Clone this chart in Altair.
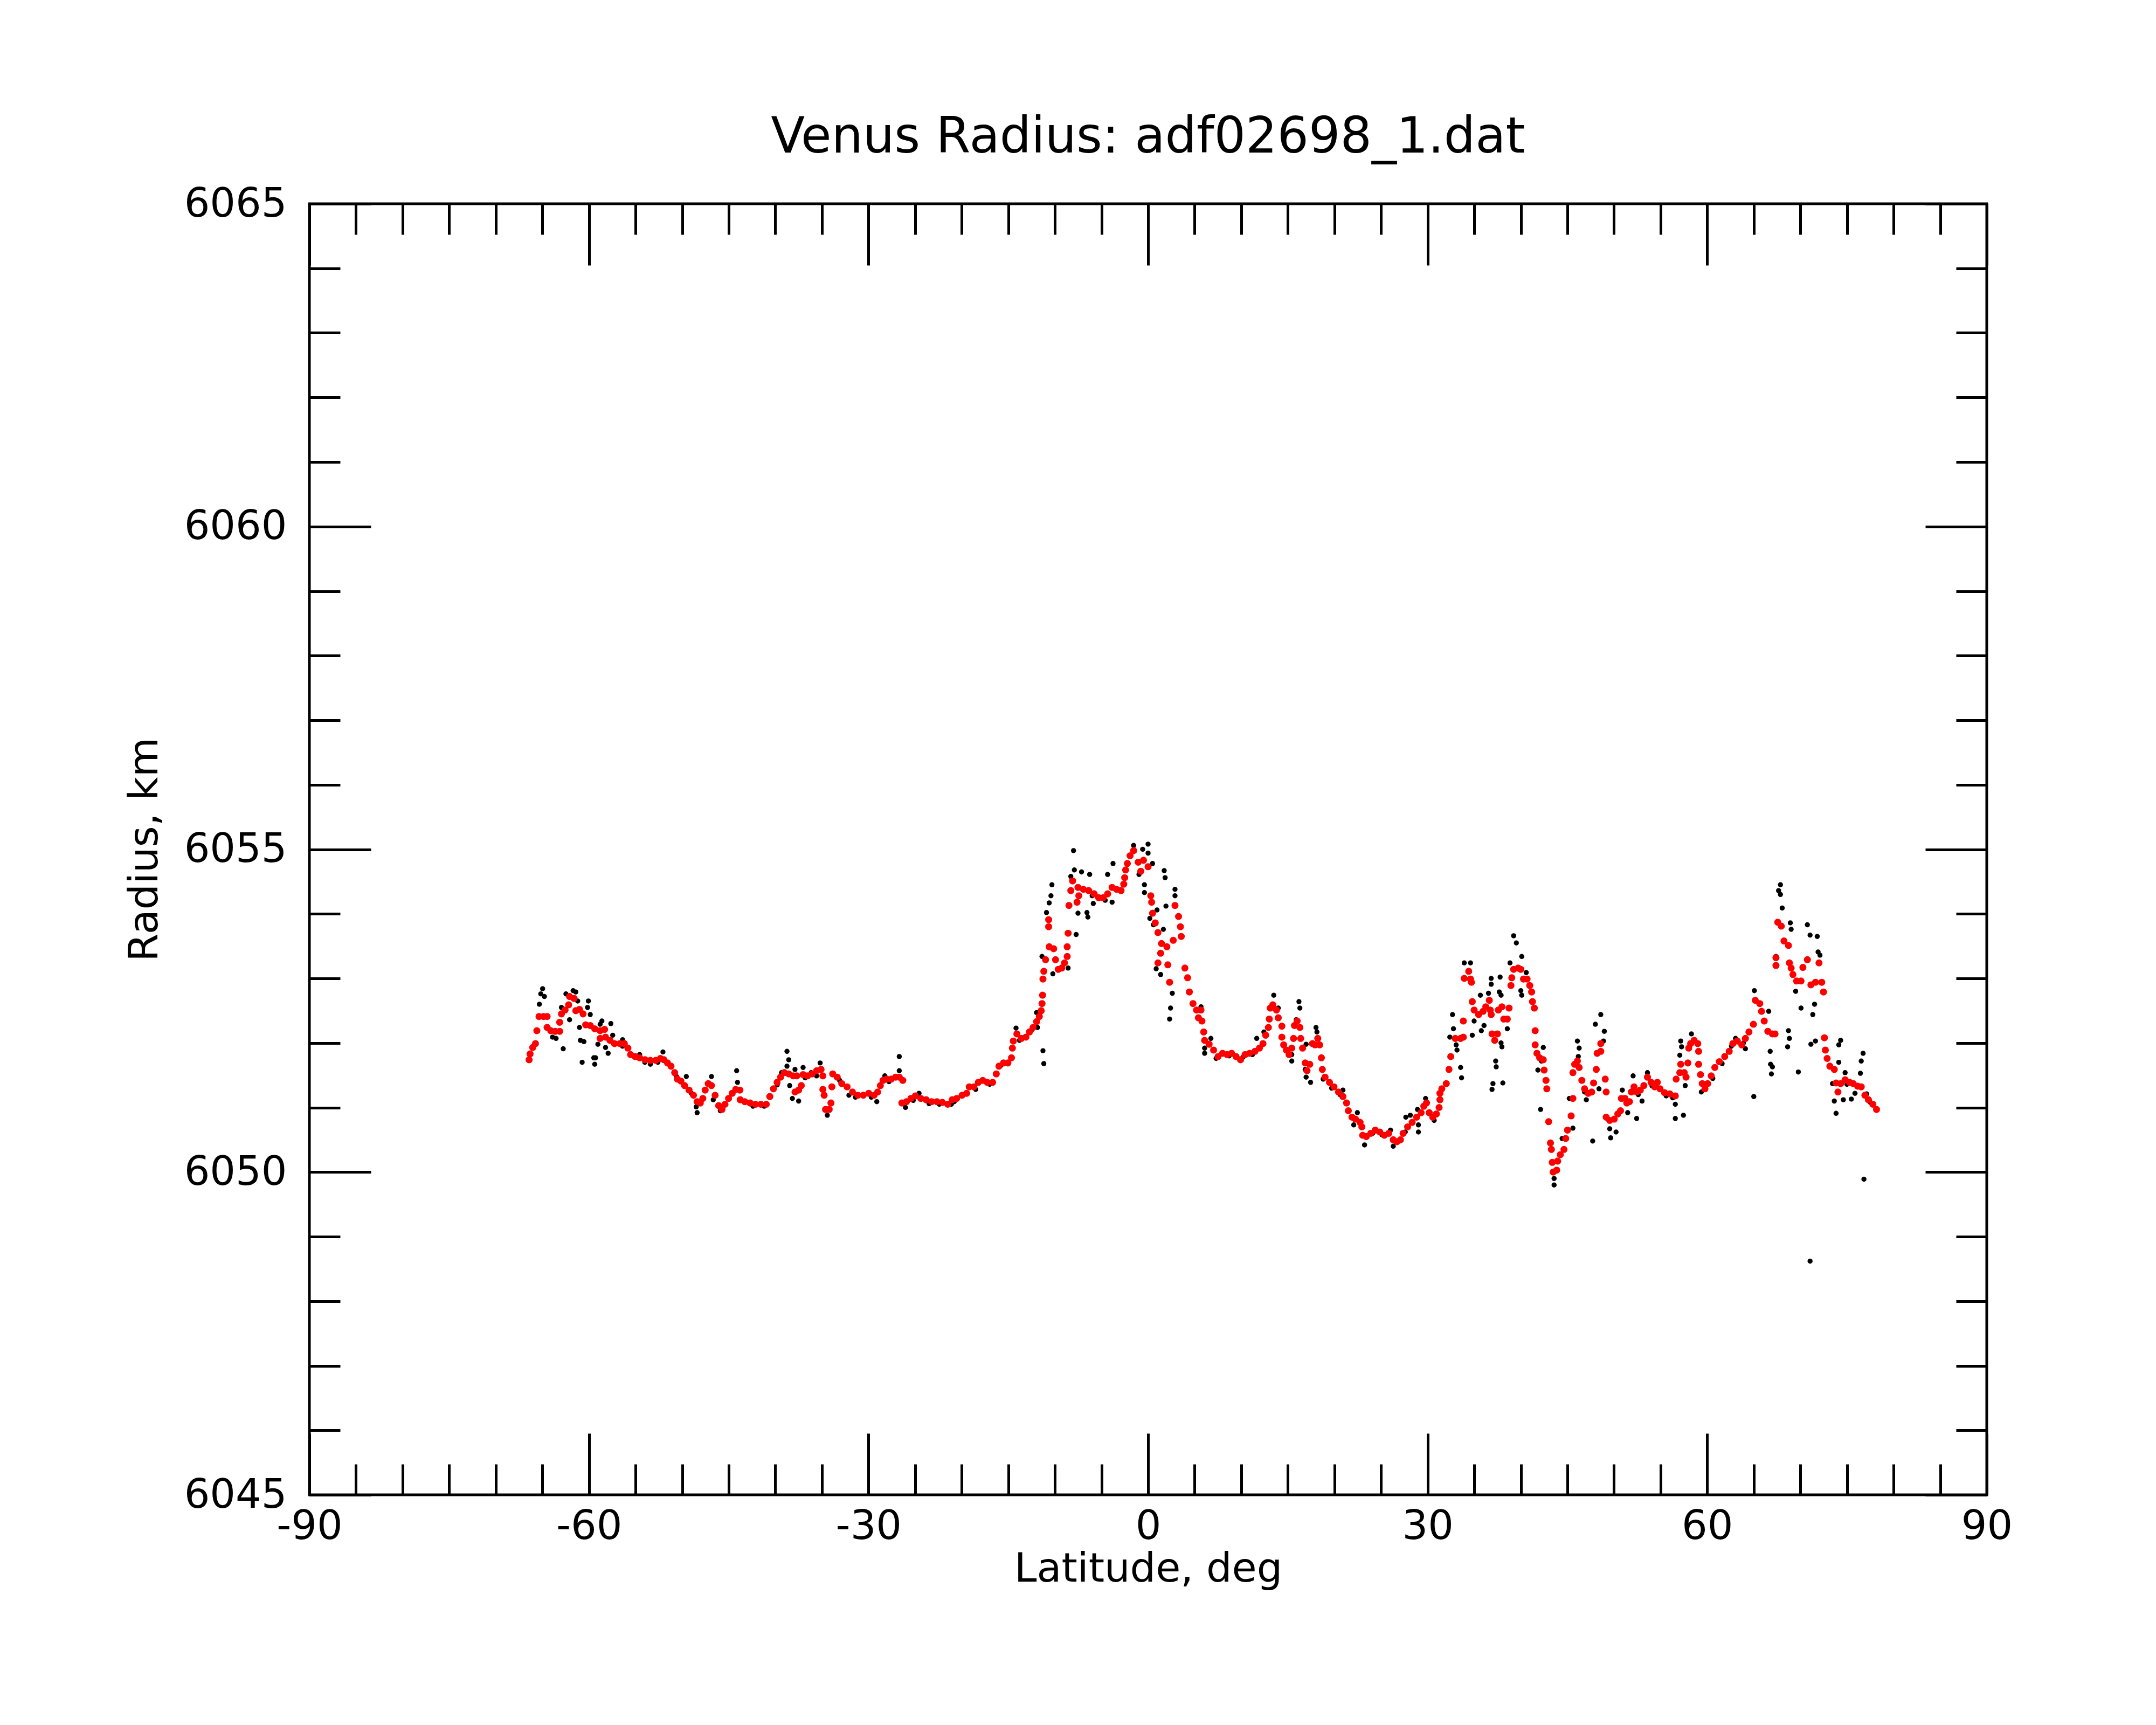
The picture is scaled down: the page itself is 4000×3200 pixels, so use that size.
import altair as alt
import pandas as pd

# ---------------- data ----------------
red_lat = [
    -66.42, -66.32, -66.03, -65.74, -65.59, -65.36, -64.88, -64.49, -64.49, -64.10,
    -63.62, -63.14, -63.14, -62.95, -62.56, -62.18, -62.08, -61.60, -61.41, -61.02,
    -60.63, -60.35, -59.86, -59.38, -58.80, -58.32, -58.80, -58.22, -57.74, -57.26,
    -56.68, -56.20, -55.82, -55.53, -55.04, -54.56, -53.98, -53.41, -52.83, -52.34,
    -51.96, -51.57, -51.19, -50.80, -50.51, -50.13, -49.74, -49.26, -48.78, -48.39,
    -48.05, -47.78, -47.53, -47.20, -46.85, -46.46, -46.08, -45.73, -45.40, -45.02,
    -44.63, -44.25, -43.80, -43.77,
    -43.28, -42.71, -42.13, -41.55, -40.97, -40.59, -40.20, -39.81, -39.43, -39.04,
    -38.56, -38.08, -37.69, -37.89, -37.50, -37.21, -37.02, -36.54, -36.05, -35.57,
    -35.09, -34.90, -34.90, -34.76, -34.61, -34.22, -34.03, -33.93, -33.84, -33.36,
    -32.87, -32.30, -31.72, -31.14, -30.56, -29.98, -29.40, -29.02, -28.73, -28.44,
    -28.05, -27.57, -27.09, -26.70, -26.32, -26.42, -25.93, -25.45, -24.97, -24.39,
    -23.81, -23.23, -22.66, -22.08, -21.50, -21.02, -20.54, -19.96, -19.47, -19.19,
    -18.70, -18.22, -17.74, -17.26, -16.68, -16.29, -16.00, -15.52, -15.04, -14.66,
    -14.56, -14.46, -14.08, -13.60, -13.11, -12.73, -12.34, -11.96, -11.67, -11.47,
    -11.38, -11.32, -11.28, -11.19, -11.00, -10.61, -10.13, -9.93, -9.64, -9.26,
    -8.97, -8.68, -8.68, -8.58, -10.67, -10.67, -8.49, -8.29, -8.10, -7.62,
    -7.43, -7.52, -6.94, -6.37, -5.79, -5.30, -4.82, -4.34, -3.86, -3.38,
    -2.90, -2.61, -2.51, -2.41, -2.22, -1.93, -1.55, -1.06, -0.49, 0.00,
    -0.78, 0.29, 0.38, 0.48, 0.77, 1.06, 1.44, 2.02, 1.35, 1.06,
    2.12, 2.31, 2.70, 2.89, 3.27, 3.47, 3.56, 3.95, 4.24, 4.43,
    4.82, 5.20, 5.40,
    5.68, 5.78, 5.97, 6.07, 6.55, 7.03, 7.51, 7.99, 8.48, 8.96,
    9.44, 9.92, 10.41, 10.89, 11.47, 11.95, 12.33, 12.62, 12.91, 13.01,
    13.11, 13.39, 13.78, 13.97, 14.36, 14.36, 14.55, 14.84, 15.13, 15.42,
    15.61, 15.71, 16.00, 16.29, 16.38, 16.58, 16.86, 17.06, 17.35, 17.64,
    17.92, 18.21, 18.41, 18.60, 18.70, 18.99, 19.47, 19.95, 20.43, 20.91,
    21.30, 21.49, 21.88, 22.26, 22.75, 22.94, 23.03, 23.42, 23.90, 24.38,
    24.87, 25.35, 25.83, 26.31, 26.70, 27.08, 27.37, 27.85, 28.34, 28.82,
    29.30, 29.59, 29.88,
    30.17, 30.55, 30.94, 31.23, 31.32, 31.32, 31.52, 32.00, 32.29, 32.48,
    32.96, 33.54, 33.83, 33.83, 33.93, 34.41, 34.60, 34.70, 34.79, 34.99,
    35.47, 35.95, 36.24, 36.62, 36.72, 36.82, 36.91, 37.20, 37.49, 37.59,
    37.97, 38.17, 38.55, 38.74, 38.94, 39.03, 39.23, 39.71, 40.00, 40.29,
    40.67, 40.96, 41.16, 41.25, 41.45, 41.54, 41.54, 41.73, 42.02, 42.41,
    42.50, 42.70, 42.79, 42.99, 43.18, 43.28, 43.37, 43.47, 43.85, 43.95,
    44.24, 44.63, 44.82, 45.01, 45.40, 45.59, 45.59, 45.78, 46.07, 46.26,
    46.55, 46.84, 47.23, 47.61, 47.81, 48.10, 48.19, 48.58, 48.58, 49.06,
    49.16, 49.16, 49.54, 50.02, 50.41, 50.70, 50.79, 51.18, 51.37, 51.66,
    51.86, 52.15, 52.43, 52.82, 53.20, 53.59, 53.98, 54.36,
    54.65, 54.94, 55.42, 56.00, 56.58, 56.67, 57.06, 57.16, 57.54, 57.73,
    57.93, 58.02, 58.22, 58.60, 58.99, 59.08, 59.08, 59.28, 59.47, 59.76,
    60.05, 60.43, 60.82, 61.30, 61.88, 62.36, 62.75, 63.23, 63.71, 64.10,
    64.48, 64.96, 65.16, 65.64, 65.83, 66.12, 66.51, 67.00, 67.28, 67.38,
    67.38, 67.57, 67.95, 68.24, 68.72, 68.82, 69.01, 69.20, 69.59, 70.07,
    70.27, 70.75, 71.13, 71.62, 72.00, 72.29, 72.48, 72.58, 72.68, 72.87,
    73.16, 73.64, 73.83, 74.03, 74.32, 74.80, 75.28, 75.67, 76.15, 76.53,
    76.92, 77.30, 77.78, 78.17,
]
red_r = [
    6051.74, 6051.83, 6051.93, 6051.99, 6052.19, 6052.41, 6052.41, 6052.41, 6052.24, 6052.19,
    6052.18, 6052.18, 6052.32, 6052.45, 6052.51, 6052.59, 6052.72, 6052.69, 6052.50, 6052.52,
    6052.45, 6052.28, 6052.27, 6052.22, 6052.19, 6052.21, 6052.07, 6052.09, 6052.04, 6051.99,
    6051.99, 6051.99, 6051.92, 6051.82, 6051.79, 6051.77, 6051.74, 6051.73, 6051.73, 6051.76,
    6051.74, 6051.69, 6051.64, 6051.54, 6051.44, 6051.41, 6051.34, 6051.27, 6051.19, 6051.09,
    6051.07, 6051.14, 6051.27, 6051.37, 6051.34, 6051.19, 6051.03, 6050.97, 6051.05, 6051.14,
    6051.22, 6051.28, 6051.27, 6051.12,
    6051.09, 6051.07, 6051.05, 6051.05, 6051.05, 6051.17, 6051.29, 6051.39, 6051.47, 6051.54,
    6051.52, 6051.49, 6051.49, 6051.24, 6051.27, 6051.34, 6051.51, 6051.49, 6051.52, 6051.57,
    6051.59, 6051.49, 6051.28, 6051.19, 6050.97, 6050.97, 6051.07, 6051.32, 6051.52, 6051.47,
    6051.37, 6051.32, 6051.24, 6051.19, 6051.19, 6051.22, 6051.19, 6051.24, 6051.34, 6051.42,
    6051.44, 6051.44, 6051.47, 6051.47, 6051.42, 6051.07, 6051.09, 6051.14, 6051.18, 6051.14,
    6051.12, 6051.09, 6051.09, 6051.08, 6051.05, 6051.12, 6051.14, 6051.19, 6051.22, 6051.32,
    6051.32, 6051.39, 6051.42, 6051.39, 6051.39, 6051.52, 6051.64, 6051.69, 6051.69, 6051.77,
    6051.92, 6052.03, 6052.14, 6052.07, 6052.09, 6052.17, 6052.24, 6052.33, 6052.41, 6052.50,
    6052.61, 6052.74, 6052.99, 6053.11, 6053.29, 6053.49, 6053.46, 6053.29, 6053.14, 6053.16,
    6053.24, 6053.34, 6053.49, 6053.70, 6053.80, 6053.91, 6054.13, 6054.36, 6054.51, 6054.18,
    6054.28, 6054.41, 6054.38, 6054.36, 6054.31, 6054.25, 6054.25, 6054.31, 6054.41, 6054.38,
    6054.36, 6054.46, 6054.56, 6054.68, 6054.78, 6054.90, 6054.98, 6054.80, 6054.83, 6054.73,
    6054.66, 6054.28, 6054.18, 6054.01, 6053.86, 6053.71, 6053.54, 6053.49, 6053.39, 6053.24,
    6053.21, 6052.94, 6053.59, 6054.13, 6053.96, 6053.80, 6053.65, 6053.16, 6053.01, 6052.79,
    6052.61, 6052.51, 6052.39,
    6052.51, 6052.34, 6052.17, 6052.04, 6051.98, 6051.89, 6051.79, 6051.84, 6051.82, 6051.84,
    6051.79, 6051.74, 6051.82, 6051.84, 6051.87, 6051.92, 6051.99, 6052.12, 6052.24, 6052.37,
    6052.54, 6052.59, 6052.51, 6052.39, 6052.26, 6052.09, 6051.97, 6051.89, 6051.82, 6051.92,
    6052.07, 6052.27, 6052.34, 6052.24, 6052.07, 6051.92, 6051.69, 6051.57, 6051.67, 6051.99,
    6051.97, 6052.07, 6051.97, 6051.77, 6051.59, 6051.47, 6051.39, 6051.32, 6051.24, 6051.17,
    6051.07, 6050.95, 6050.85, 6050.82, 6050.77, 6050.70, 6050.57, 6050.55, 6050.60, 6050.65,
    6050.62, 6050.57, 6050.60, 6050.50, 6050.47, 6050.50, 6050.60, 6050.70, 6050.77, 6050.85,
    6050.92, 6051.02, 6051.07,
    6050.92, 6050.85, 6050.90, 6051.00, 6051.12, 6051.22, 6051.29, 6051.37, 6051.59, 6051.79,
    6052.07, 6052.07, 6052.09, 6052.34, 6053.00, 6053.11, 6052.99, 6052.94, 6052.64, 6052.51,
    6052.44, 6052.49, 6052.56, 6052.66, 6052.51, 6052.44, 6052.14, 6052.04, 6052.14, 6052.51,
    6052.56, 6052.37, 6052.37, 6052.54, 6052.89, 6053.01, 6053.14, 6053.16, 6053.14, 6052.99,
    6052.99, 6052.89, 6052.79, 6052.64, 6052.54, 6052.19, 6051.97, 6051.84, 6051.77, 6051.74,
    6051.58, 6051.42, 6051.29, 6050.78, 6050.45, 6050.35, 6050.15, 6050.00, 6050.03, 6050.17,
    6050.27, 6050.35, 6050.52, 6050.65, 6050.87, 6051.14, 6051.54, 6051.67, 6051.72, 6051.62,
    6051.42, 6051.29, 6051.22, 6051.24, 6051.38, 6051.59, 6051.84, 6051.87, 6051.99, 6051.44,
    6051.24, 6050.85, 6050.80, 6050.82, 6050.90, 6050.95, 6051.14, 6051.14, 6051.07, 6051.09,
    6051.24, 6051.32, 6051.24, 6051.27, 6051.34, 6051.47, 6051.39, 6051.32,
    6051.39, 6051.29, 6051.23, 6051.21, 6051.18, 6051.44, 6051.54, 6051.67, 6051.54, 6051.47,
    6051.69, 6051.92, 6051.99, 6052.04, 6051.99, 6051.87, 6051.67, 6051.51, 6051.37, 6051.29,
    6051.37, 6051.49, 6051.62, 6051.71, 6051.79, 6051.87, 6051.99, 6052.03, 6051.97, 6052.07,
    6052.17, 6052.29, 6052.66, 6052.61, 6052.49, 6052.34, 6052.18, 6052.14, 6052.14, 6053.32,
    6053.20, 6053.87, 6053.81, 6053.58, 6053.51, 6053.24, 6053.16, 6053.06, 6052.96, 6052.96,
    6053.17, 6053.29, 6052.90, 6052.94, 6053.24, 6052.94, 6052.79, 6052.08, 6051.89, 6051.76,
    6051.64, 6051.59, 6051.38, 6051.24, 6051.37, 6051.43, 6051.39, 6051.37, 6051.33, 6051.32,
    6051.19, 6051.12, 6051.05, 6050.97,
]

blk_lat = [
    -64.97, -65.17, -64.78, -65.32, -63.91, -63.53, -62.76, -62.95, -62.47, -61.70,
    -61.41, -61.21, -62.08, -61.02, -60.92, -60.54, -60.73, -60.06, -60.15, -59.86,
    -59.48, -59.29, -59.38, -58.61, -58.80, -57.65, -58.22, -57.94, -59.04, -57.45,
    -56.39, -54.56, -53.41, -52.06, -49.55, -48.39, -48.49, -46.85, -46.66, -45.89,
    -44.15, -44.06,
    -38.75, -38.56, -38.75, -39.33, -37.89, -37.02, -38.46, -38.17, -37.50, -36.15,
    -35.19, -35.57, -34.42, -32.10, -29.11, -28.25, -26.70, -26.70, -26.03, -24.58,
    -21.11,
    -8.00, -7.91, -8.29, -7.14, -6.27, -4.34, -3.76, -5.88, -3.86, -7.52,
    -6.56, -6.46, -7.72, -10.32, -10.42, -10.61, -10.90, -11.38, -11.19, -10.22,
    -8.58, -11.28, -11.19, -14.17, -11.96, -11.86, 0.00, -0.58, 0.00, 0.48,
    -0.97, -0.39, -0.39, 1.73, 1.83, 0.96, 1.92, 1.64, 0.19, 0.58,
    2.89, 2.89, 0.87, 1.35, 2.60, 2.41, 2.31, -1.55,
    5.68, 6.07, 6.07, 6.74, 11.66, 12.43, 13.49, 13.97, 16.19, 16.29,
    15.90, 18.02, 18.12, 16.96, 16.86, 16.96, 17.44, 15.42, 15.42, 18.79,
    20.91, 22.46, 22.07, 23.23, 26.02, 26.31, 27.66, 28.14, 28.91, 29.01,
    29.01, 29.78,
    32.67, 32.77, 32.38, 33.06, 33.15, 33.54, 33.64, 33.93, 34.60, 34.79,
    34.99, 35.76, 35.66, 36.53, 36.82, 36.82, 37.78, 37.69, 37.88, 36.05,
    37.30, 37.36, 37.01, 36.91, 38.07, 37.88, 37.97, 38.55, 38.84, 39.23,
    39.52, 40.10, 40.00, 40.10, 40.58, 42.41, 42.21, 41.83, 42.12, 43.57,
    43.57, 44.43, 45.59, 45.20, 46.07, 46.26, 46.17, 46.84, 47.03, 47.71,
    48.00, 48.58, 48.96, 48.87, 48.39, 49.54, 49.64, 50.22, 50.89, 51.47,
    52.05, 52.43, 53.01, 53.59, 54.07,
    57.16, 57.25, 57.06, 57.64, 56.58, 56.58, 57.45, 58.31, 59.37, 63.04,
    64.10, 65.06, 65.00, 66.60, 66.76, 66.80, 67.00, 66.89, 67.86, 67.66,
    67.86, 68.05, 68.92, 69.01, 67.38, 68.72, 68.82, 68.63, 69.49, 70.07,
    69.78, 70.75, 71.04, 71.81, 71.90, 72.10, 71.52, 71.33, 71.13, 71.62,
    71.04, 72.58, 74.32, 74.12, 74.12, 74.80, 73.45, 73.64, 73.83, 74.61,
    75.47, 75.86, 76.44, 76.53, 76.73, 76.82, 77.11,
    -56.40, -54.00, -52.60, -50.60, -49.00, -45.90, -42.40, -41.20, -39.80, -36.80,
    -33.10, -31.40, -29.70, -27.80, -25.20, -23.50, -22.40, -20.80, -18.50, -17.00,
    -15.80, -13.80, -12.50, -6.00, -4.60, 7.30, 8.70, 10.20, 11.20, 19.70,
    20.60, 24.10, 25.10, 27.60, 30.70, 52.60, 55.60, 56.30, 60.60, 61.60,
    62.60, 63.90, 75.00, 77.50,
]
blk_r = [
    6052.84, 6052.76, 6052.72, 6052.60, 6052.09, 6052.07, 6051.91, 6052.55, 6052.76, 6052.81,
    6052.79, 6052.65, 6052.36, 6052.24, 6052.04, 6052.02, 6051.70, 6052.65, 6052.55, 6052.44,
    6051.77, 6051.77, 6051.67, 6052.34, 6052.29, 6052.30, 6051.93, 6051.84, 6051.98, 6052.12,
    6052.05, 6051.82, 6051.67, 6051.86, 6051.48, 6050.92, 6051.01, 6051.48, 6051.12, 6050.95,
    6051.57, 6051.39,
    6051.87, 6051.74, 6051.64, 6051.54, 6051.59, 6051.62, 6051.34, 6051.14, 6051.10, 6051.54,
    6051.69, 6051.49, 6050.88, 6051.19, 6051.09, 6051.49, 6051.79, 6051.57, 6051.00, 6051.22,
    6051.05,
    6054.98, 6054.68, 6054.58, 6054.65, 6054.61, 6054.61, 6054.78, 6054.16, 6054.18, 6054.01,
    6054.02, 6053.95, 6053.68, 6054.45, 6054.28, 6054.17, 6054.02, 6053.34, 6053.10, 6053.07,
    6053.16, 6051.88, 6051.68, 6052.23, 6052.47, 6052.24, 6055.08, 6055.00, 6054.94, 6054.78,
    6054.61, 6054.45, 6054.33, 6054.67, 6054.56, 6054.06, 6054.12, 6053.76, 6053.93, 6053.83,
    6054.38, 6054.28, 6053.15, 6053.06, 6052.77, 6052.54, 6052.37, 6055.06,
    6052.56, 6051.92, 6051.84, 6052.07, 6052.07, 6052.17, 6052.74, 6052.54, 6052.64, 6052.54,
    6052.36, 6052.24, 6052.17, 6051.98, 6051.59, 6051.47, 6051.39, 6051.72, 6051.82, 6051.44,
    6051.27, 6050.92, 6050.73, 6050.42, 6050.65, 6050.40, 6050.85, 6050.88, 6050.97, 6050.73,
    6050.62, 6051.14,
    6052.44, 6052.22, 6052.09, 6051.97, 6051.89, 6051.62, 6051.46, 6053.24, 6053.24, 6052.12,
    6052.34, 6052.19, 6052.74, 6052.77, 6053.00, 6052.91, 6053.02, 6052.79, 6052.74, 6052.27,
    6051.72, 6051.63, 6051.37, 6051.28, 6051.38, 6052.00, 6051.94, 6052.22, 6053.24, 6053.66,
    6053.55, 6053.34, 6052.81, 6052.74, 6053.09, 6051.93, 6051.72, 6051.58, 6050.97, 6049.90,
    6049.80, 6050.52, 6050.68, 6051.14, 6052.03, 6051.92, 6051.79, 6051.24, 6051.12, 6050.48,
    6052.29, 6052.44, 6052.18, 6052.03, 6051.29, 6050.67, 6050.53, 6050.62, 6051.27, 6050.92,
    6051.49, 6050.83, 6051.10, 6051.54, 6051.34,
    6052.03, 6051.94, 6051.81, 6051.34, 6051.05, 6050.83, 6050.88, 6052.14, 6051.24, 6052.07,
    6051.91, 6052.81, 6051.17, 6052.49, 6051.87, 6051.67, 6051.63, 6051.52, 6054.45, 6054.36,
    6054.30, 6054.09, 6053.86, 6053.76, 6053.34, 6052.19, 6052.07, 6051.94, 6052.80, 6052.54,
    6051.55, 6053.83, 6053.67, 6053.65, 6053.41, 6053.36, 6052.60, 6052.44, 6051.98, 6052.03,
    6048.62, 6052.07, 6052.04, 6051.97, 6051.70, 6051.54, 6051.37, 6051.10, 6050.91, 6051.12,
    6051.13, 6051.22, 6051.53, 6051.72, 6051.84, 6049.89, 6051.21,
    6051.95, 6051.70, 6051.70, 6051.48, 6051.22, 6050.95, 6051.02, 6051.02, 6051.35, 6051.46,
    6051.42, 6051.16, 6051.16, 6051.40, 6051.11, 6051.06, 6051.05, 6051.09, 6051.28, 6051.36,
    6051.65, 6052.04, 6052.20, 6054.28, 6054.21, 6051.76, 6051.80, 6051.78, 6051.82, 6051.30,
    6051.20, 6050.60, 6050.58, 6050.62, 6050.80, 6051.20, 6051.18, 6051.15, 6051.45, 6051.68,
    6051.95, 6052.00, 6051.36, 6051.08,
]

x_major = [-90, -60, -30, 0, 30, 60, 90]
x_minor = list(range(-90, 91, 5))
y_major = [6045, 6050, 6055, 6060, 6065]
y_minor = list(range(6045, 6066, 1))

title_text = "Venus Radius: adf02698_1.dat"
x_title = "Latitude, deg"
y_title = "Radius, km"

# ---------------- layout ----------------
W, H = 3112, 2395
FONT = "DejaVu Sans"
MAJ, MIN, TW = 114, 57, 5
LFS = 75   # tick label font size
TFS = 75   # axis title font size

red = pd.DataFrame({"lat": red_lat, "r": red_r})
blk = pd.DataFrame({"lat": blk_lat, "r": blk_r})

xs = alt.Scale(domain=[-90, 90], nice=False, zero=False)
ys = alt.Scale(domain=[6045, 6065], nice=False, zero=False)


def tick_axis(orient, offset, values, size):
    return alt.Axis(orient=orient, offset=offset, values=values, ticks=True,
                    tickSize=size, tickWidth=TW, tickColor="black",
                    labels=False, domain=False, grid=False, title=None)


ax_x_lab = alt.Axis(orient="bottom", values=x_major, ticks=False, domain=False,
                    grid=False, labelExpr="'' + datum.value", labelFont=FONT,
                    labelFontSize=LFS, labelColor="black", labelPadding=22,
                    labelFlush=False, labelOverlap=False, labelLimit=1000,
                    title=x_title,
                    titleFont=FONT, titleFontSize=TFS, titleFontWeight="normal",
                    titleColor="black", titleX=W / 2, titleY=160,
                    titleBaseline="alphabetic", titleAlign="center")
ax_y_lab = alt.Axis(orient="left", values=y_major, ticks=False, domain=False,
                    grid=False, labelExpr="'' + datum.value", labelFont=FONT,
                    labelFontSize=LFS, labelColor="black", labelPadding=42,
                    labelFlush=False, labelOverlap=False, labelLimit=1000,
                    title=y_title,
                    titleFont=FONT, titleFontSize=TFS, titleFontWeight="normal",
                    titleColor="black", titleX=-306, titleY=H / 2,
                    titleAngle=270, titleBaseline="middle", titleAlign="center")

x_axes = [
    ax_x_lab,
    tick_axis("top", -H, x_major, MAJ),
    tick_axis("top", -H, x_minor, MIN),
    tick_axis("bottom", -H, x_major, MAJ),
    tick_axis("bottom", -H, x_minor, MIN),
]
y_axes = [
    ax_y_lab,
    tick_axis("right", -W, y_major, MAJ),
    tick_axis("right", -W, y_minor, MIN),
    tick_axis("left", -W, y_major, MAJ),
    tick_axis("left", -W, y_minor, MIN),
]

layers = []
for i in range(5):
    if i == 0:
        base = alt.Chart(blk).mark_circle(color="black", size=90, opacity=1)
    elif i == 1:
        base = alt.Chart(red).mark_circle(color="#ff0000", size=170, opacity=1)
    else:
        base = alt.Chart(red).mark_circle(color="#ff0000", size=1, opacity=0)
    layers.append(base.encode(
        x=alt.X("lat:Q", scale=xs, axis=x_axes[i]),
        y=alt.Y("r:Q", scale=ys, axis=y_axes[i]),
    ))

chart = alt.layer(*layers).resolve_axis(
    x="independent", y="independent"
).properties(
    width=W, height=H,
    background="white",
    title=alt.TitleParams(text=title_text, font=FONT, fontSize=92,
                          fontWeight="normal", color="black", anchor="middle",
                          frame="group", offset=39),
    autosize=alt.AutoSizeParams(type="none"),
    padding={"left": 566, "top": 370, "right": 300, "bottom": 410},
).configure_view(
    stroke="black", strokeWidth=5
)

chart.save("out.html", embed_options={"renderer": "svg", "actions": False})
